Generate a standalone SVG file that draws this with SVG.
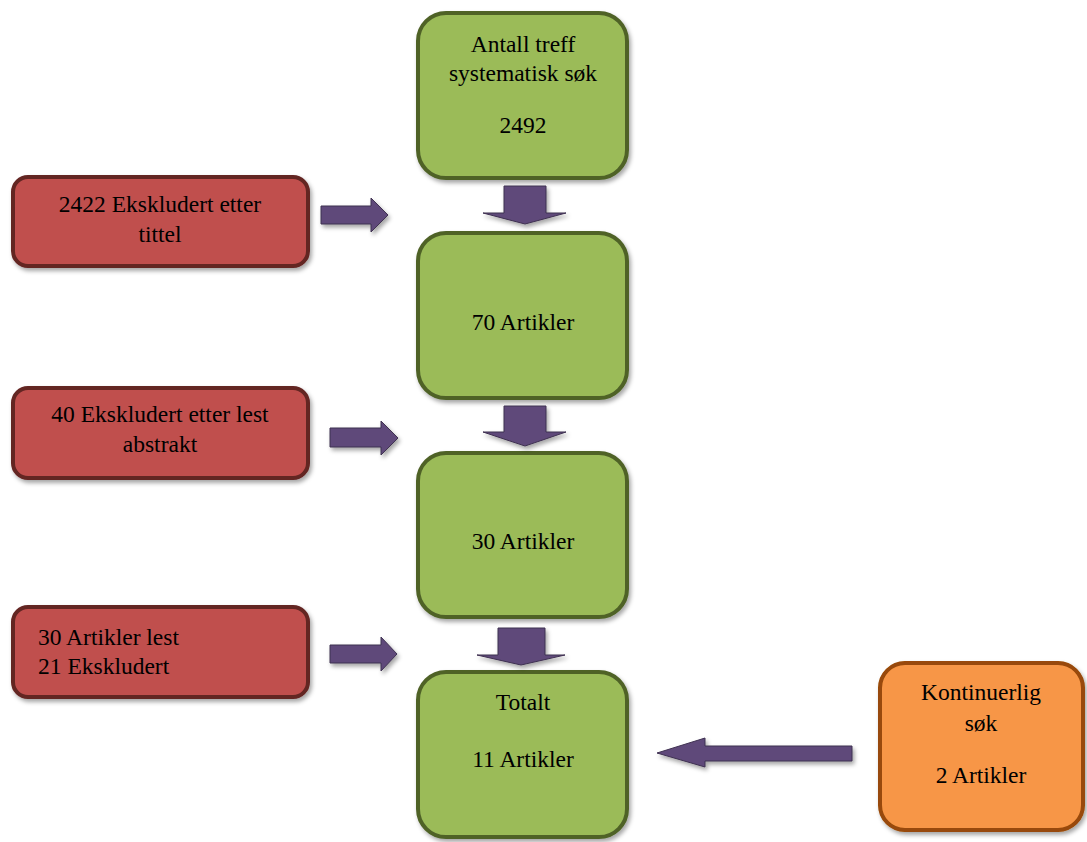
<svg xmlns="http://www.w3.org/2000/svg" width="1087" height="842" viewBox="0 0 1087 842">
<defs>
<filter id="sh" x="-10%" y="-10%" width="130%" height="130%">
<feDropShadow dx="2" dy="3" stdDeviation="2" flood-color="#000" flood-opacity="0.35"/>
</filter>
</defs>
<rect width="1087" height="842" fill="#fff"/>
<g id="n1"><rect fill="#9bbb59" stroke="#4f6228" stroke-width="4" filter="url(#sh)" x="418" y="13" width="209" height="165" rx="28"/>
<text font-family="Liberation Serif" font-size="23.5" text-anchor="middle" x="523" y="52">Antall treff</text><text font-family="Liberation Serif" font-size="23.5" text-anchor="middle" x="523" y="81">systematisk søk</text><text font-family="Liberation Serif" font-size="23.5" text-anchor="middle" x="523" y="133">2492</text></g>
<g id="n2"><rect fill="#9bbb59" stroke="#4f6228" stroke-width="4" filter="url(#sh)" x="418" y="233" width="209" height="165" rx="28"/>
<text font-family="Liberation Serif" font-size="23.5" text-anchor="middle" x="523" y="330">70 Artikler</text></g>
<g id="n3"><rect fill="#9bbb59" stroke="#4f6228" stroke-width="4" filter="url(#sh)" x="418" y="453" width="209" height="164" rx="28"/>
<text font-family="Liberation Serif" font-size="23.5" text-anchor="middle" x="523" y="549">30 Artikler</text></g>
<g id="n4"><rect fill="#9bbb59" stroke="#4f6228" stroke-width="4" filter="url(#sh)" x="418" y="672" width="209" height="165" rx="28"/>
<text font-family="Liberation Serif" font-size="23.5" text-anchor="middle" x="523" y="710">Totalt</text><text font-family="Liberation Serif" font-size="23.5" text-anchor="middle" x="523" y="767">11 Artikler</text></g>
<g id="r1"><rect fill="#c0504d" stroke="#632523" stroke-width="4" filter="url(#sh)" x="13" y="177" width="295" height="89" rx="15"/>
<text font-family="Liberation Serif" font-size="23.5" text-anchor="middle" x="160" y="212">2422 Ekskludert etter</text><text font-family="Liberation Serif" font-size="23.5" text-anchor="middle" x="160" y="242">tittel</text></g>
<g id="r2"><rect fill="#c0504d" stroke="#632523" stroke-width="4" filter="url(#sh)" x="13" y="388" width="295" height="90" rx="15"/>
<text font-family="Liberation Serif" font-size="23.5" text-anchor="middle" x="160" y="422">40 Ekskludert etter lest</text><text font-family="Liberation Serif" font-size="23.5" text-anchor="middle" x="160" y="452">abstrakt</text></g>
<g id="r3"><rect fill="#c0504d" stroke="#632523" stroke-width="4" filter="url(#sh)" x="13" y="607" width="295" height="90" rx="15"/>
<text font-family="Liberation Serif" font-size="23.5" x="38" y="645">30 Artikler lest</text><text font-family="Liberation Serif" font-size="23.5" x="38" y="674">21 Ekskludert</text></g>
<g id="o1"><rect fill="#f79646" stroke="#984807" stroke-width="4" filter="url(#sh)" x="880" y="663" width="203" height="167" rx="25"/>
<text font-family="Liberation Serif" font-size="23.5" text-anchor="middle" x="981" y="700">Kontinuerlig</text><text font-family="Liberation Serif" font-size="23.5" text-anchor="middle" x="981" y="731">søk</text><text font-family="Liberation Serif" font-size="23.5" text-anchor="middle" x="981" y="783">2 Artikler</text></g>
<g id="connectors" fill="#5f497a" stroke="#3f3151" stroke-width="1" filter="url(#sh)">
<polygon points="504,186 546,186 546,213 566,213 525,224 483,213 504,213"/>
<polygon points="504,406 546,406 546,432 566,432 525,446 483,432 504,432"/>
<polygon points="498,628 545,628 545,655 565,655 521,665 477,655 498,655"/>
<polygon points="321,206 371,206 371,198 388,215 371,232 371,224 321,224"/>
<polygon points="330,428 381,428 381,421 398,438 381,455 381,447 330,447"/>
<polygon points="330,645 381,645 381,637 397,654 381,671 381,663 330,663"/>
<polygon points="852,746 705,746 705,738 657,753 705,767 705,761 852,761"/>
</g>
</svg>
